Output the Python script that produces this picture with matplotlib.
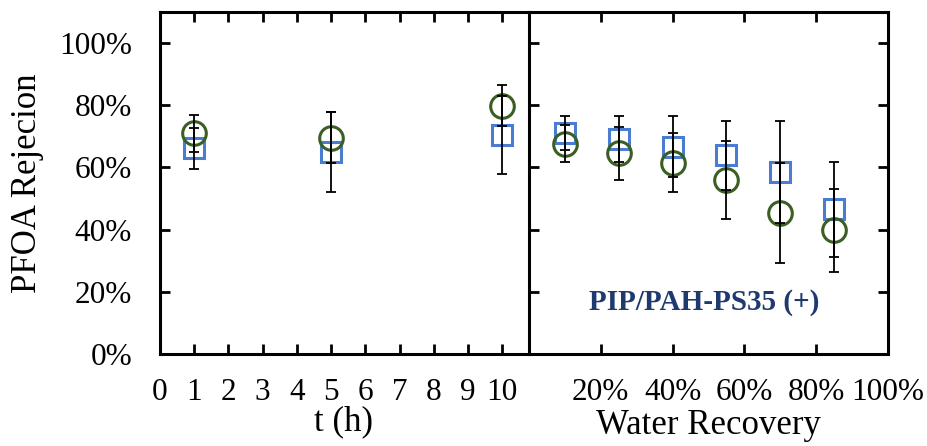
import matplotlib
matplotlib.use("Agg")
import matplotlib.pyplot as plt
from matplotlib.ticker import FuncFormatter

plt.rcParams['font.family'] = ['Liberation Serif', 'DejaVu Serif']

# Left panel: rejection vs time
t_hours = [1, 5, 10]
sq_time = [0.662, 0.650, 0.704]
sq_time_err = [0.066, 0.129, 0.125]
ci_time = [0.710, 0.696, 0.798]
ci_time_err = [0.059, 0.083, 0.066]

# Right panel: rejection vs water recovery
recovery = [0.10, 0.25, 0.40, 0.55, 0.70, 0.85]
sq_rec = [0.712, 0.690, 0.667, 0.639, 0.586, 0.465]
sq_rec_err = [0.055, 0.074, 0.097, 0.112, 0.165, 0.154]
ci_rec = [0.677, 0.645, 0.615, 0.559, 0.454, 0.398]
ci_rec_err = [0.059, 0.086, 0.095, 0.126, 0.160, 0.134]

left_xticks = list(range(0, 11))
right_xticks = [0.2, 0.4, 0.6, 0.8, 1.0]
yticks = [0, 0.2, 0.4, 0.6, 0.8, 1.0]
annotation = "PIP/PAH-PS35 (+)"

BLUE = '#4a7dd2'
GREEN = '#3b5e22'
TEXTBLUE = '#1f3a6e'

fig = plt.figure(figsize=(9.28, 4.46), dpi=100)
axL = fig.add_axes([160/928, 92/446, 368/928, 342/446])
axR = fig.add_axes([529/928, 92/446, 359/928, 342/446])

pct = FuncFormatter(lambda v, p: f"{int(round(v*100))}%")

def draw(ax, x, sq, sqe, ci, cie):
    ax.plot(x, sq, linestyle='none', marker='s', markersize=15, markerfacecolor='none',
            markeredgecolor=BLUE, markeredgewidth=2.2, zorder=2)
    ax.plot(x, ci, linestyle='none', marker='o', markersize=17, markerfacecolor='none',
            markeredgecolor=GREEN, markeredgewidth=2.2, zorder=2)
    ax.errorbar(x, sq, yerr=sqe, fmt='none', ecolor='black', elinewidth=1.3, capsize=3.6,
                capthick=1.3, zorder=3)
    ax.errorbar(x, ci, yerr=cie, fmt='none', ecolor='black', elinewidth=1.3, capsize=3.6,
                capthick=1.3, zorder=3)

draw(axL, t_hours, sq_time, sq_time_err, ci_time, ci_time_err)
draw(axR, recovery, sq_rec, sq_rec_err, ci_rec, ci_rec_err)

for ax in (axL, axR):
    ax.set_ylim(0, 1.1)
    ax.set_yticks(yticks)
    for s in ax.spines.values():
        s.set_linewidth(2.2)

axL.set_xlim(0, 10.75)
axL.set_xticks(left_xticks)
axL.set_xticklabels([str(v) for v in left_xticks])
axL.spines['right'].set_visible(False)
axL.yaxis.set_major_formatter(pct)
axL.tick_params(axis='x', direction='in', top=True, bottom=True, length=7, width=2,
                labelsize=22.5, pad=17)
axL.tick_params(axis='y', direction='in', left=True, right=False, length=7, width=2,
                labelsize=22.5, pad=20)
axL.set_xlabel("t (h)", fontsize=25, labelpad=-1)
axL.set_ylabel("PFOA Rejecion", fontsize=25, labelpad=11)

axR.set_xlim(0, 1.0)
axR.set_xticks(right_xticks)
axR.xaxis.set_major_formatter(pct)
axR.tick_params(axis='x', direction='in', top=True, bottom=True, length=7, width=2,
                labelsize=22.5, pad=17)
axR.tick_params(axis='y', direction='in', left=True, right=True, length=7, width=2,
                labelleft=False)
axR.set_xlabel("Water Recovery", fontsize=25, labelpad=2)
axR.text(0.488, 0.165, annotation, color=TEXTBLUE, fontsize=21, fontweight='bold',
         ha='center', va='center')

fig.savefig("out.png", dpi=100)
